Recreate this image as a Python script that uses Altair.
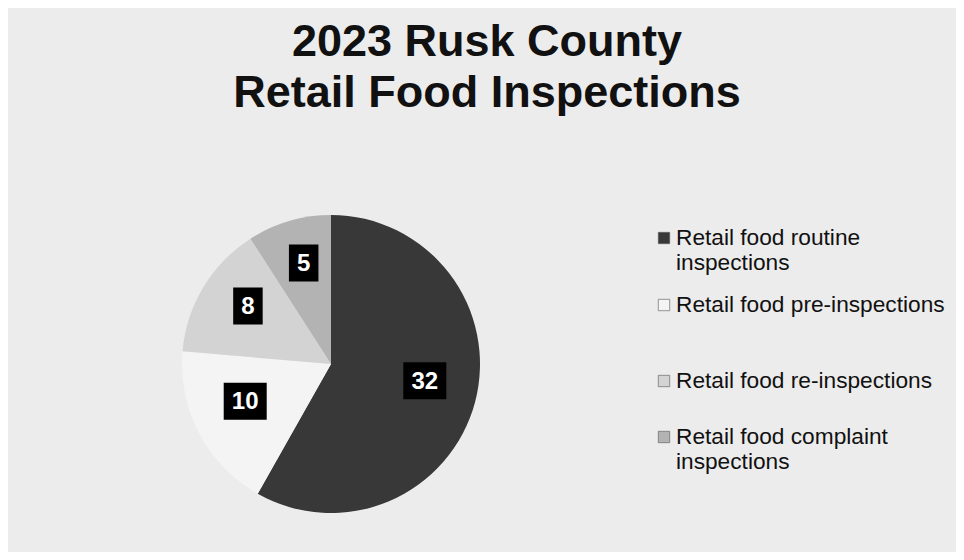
import altair as alt
import pandas as pd

categories = [
    "Retail food routine inspections",
    "Retail food pre-inspections",
    "Retail food re-inspections",
    "Retail food complaint inspections",
]
legend_labels = [
    "Retail food routine\ninspections",
    "Retail food pre-inspections",
    "Retail food re-inspections",
    "Retail food complaint\ninspections",
]
values = [32, 10, 8, 5]
colors = ["#383838", "#f4f4f4", "#d3d3d3", "#b3b3b3"]
title_lines = ["2023 Rusk County", "Retail Food Inspections"]

df = pd.DataFrame({
    "category": categories,
    "legend": legend_labels,
    "value": values,
    "idx": list(range(len(values))),
})

FONT = "Liberation Sans"
CX, CY = 323, 356     # pie centre in view pixels
R = 149               # pie radius
LCY = 348             # label circle centre y
RHO = 97              # label radius

color_scale = alt.Scale(domain=categories, range=colors)

base = alt.Chart(df)

pie = base.mark_arc(outerRadius=R, stroke=None).encode(
    theta=alt.Theta("value:Q", stack=True),
    color=alt.Color("category:N", scale=color_scale, legend=None),
    order=alt.Order("idx:Q"),
    x=alt.value(CX),
    y=alt.value(CY),
)

lab = base.transform_window(
    cum="sum(value)", sort=[alt.SortField("idx")]
).transform_joinaggregate(
    total="sum(value)"
).transform_calculate(
    mid="(datum.cum - datum.value/2) / datum.total * 2 * PI",
    txt="toString(datum.value)",
).transform_calculate(
    lx=f"{CX} + {RHO} * sin(datum.mid)",
    ly=f"{LCY} - {RHO} * cos(datum.mid)",
    bw="16 + 13.5 * length(datum.txt)",
).transform_calculate(
    x1="datum.lx - datum.bw/2",
    x2="datum.lx + datum.bw/2",
    y1="datum.ly - 18.5",
    y2="datum.ly + 18.5",
)

boxes = lab.mark_rect(color="#000000").encode(
    x=alt.X("x1:Q", scale=None),
    x2="x2:Q",
    y=alt.Y("y1:Q", scale=None),
    y2="y2:Q",
)

texts = lab.mark_text(
    font=FONT, fontSize=24, fontWeight="bold", color="white",
    align="center", baseline="middle", dy=1,
).encode(
    x=alt.X("lx:Q", scale=None),
    y=alt.Y("ly:Q", scale=None),
    text="txt:N",
)

leg = base.transform_calculate(
    ly="[237, 304, 380, 436][datum.idx]",
    sy="[230, 297, 373, 429][datum.idx]",
)

leg_sq = leg.mark_square(size=130, opacity=1, stroke="#555555", strokeWidth=0.6).encode(
    x=alt.value(656),
    y=alt.Y("sy:Q", scale=None),
    color=alt.Color("category:N", scale=color_scale, legend=None),
)

leg_txt = leg.mark_text(
    font=FONT, fontSize=22.7, color="#111111", align="left",
    baseline="alphabetic", lineBreak="\n", lineHeight=25,
).encode(
    x=alt.value(668),
    y=alt.Y("ly:Q", scale=None),
    text="legend:N",
)

title = alt.Chart(pd.DataFrame({"t": [0]})).mark_text(
    text=title_lines, font=FONT, fontSize=45, fontWeight="bold",
    color="#111111", align="center", baseline="alphabetic", lineHeight=51,
).encode(x=alt.value(479), y=alt.value(48))

chart = alt.layer(pie, boxes, texts, leg_sq, leg_txt, title).properties(
    width=948, height=544,
    autosize=alt.AutoSizeParams(type="none"),
    padding=0,
    background="#ececec",
).configure_view(stroke=None)

chart.save("out.html", embed_options={"renderer": "svg", "actions": False})
